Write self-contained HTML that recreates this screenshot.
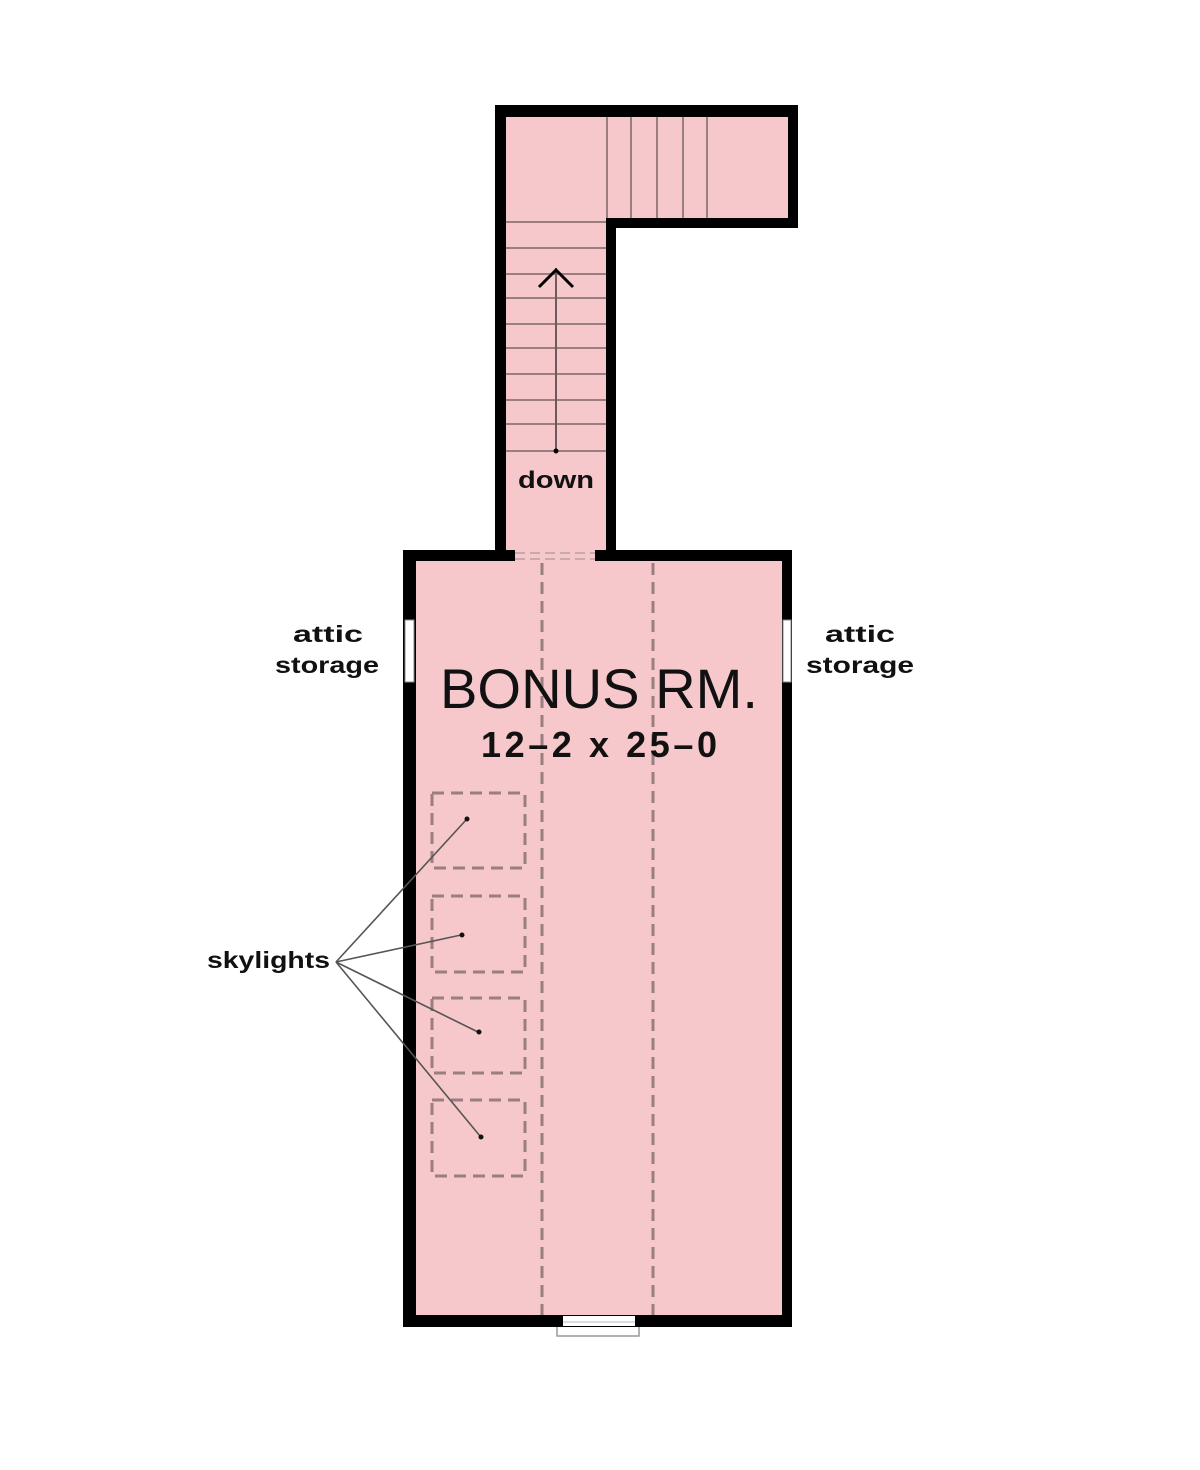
<!DOCTYPE html>
<html><head><meta charset="utf-8"><style>
html,body{margin:0;padding:0;background:#fff;}
svg{display:block;}
</style></head><body>
<svg width="1200" height="1470" viewBox="0 0 1200 1470" xmlns="http://www.w3.org/2000/svg">
<!-- pink fills -->
<rect x="495" y="105" width="303" height="123" fill="#f6c8cc"/>
<rect x="495" y="105" width="121" height="456" fill="#f6c8cc"/>
<rect x="403" y="550" width="389" height="777" fill="#f6c8cc"/>
<!-- stair walls -->
<g fill="#000">
<rect x="495" y="105" width="303" height="12"/>
<rect x="495" y="105" width="11" height="456"/>
<rect x="788" y="105" width="10" height="123"/>
<rect x="606" y="218" width="192" height="10"/>
<rect x="606" y="218" width="10" height="343"/>
<!-- room walls -->
<rect x="403" y="550" width="112" height="11"/>
<rect x="595" y="550" width="197" height="11"/>
<rect x="403" y="550" width="13" height="777"/>
<rect x="782" y="550" width="10" height="777"/>
<rect x="403" y="1315" width="389" height="12"/>
</g>
<!-- side windows -->
<rect x="405" y="620" width="9" height="62" fill="#fff" stroke="#888" stroke-width="1"/>
<rect x="783" y="620" width="8" height="62" fill="#fff" stroke="#888" stroke-width="1"/>
<!-- bottom window -->
<rect x="563" y="1316" width="72" height="10" fill="#fff"/>
<path d="M557 1327 V1336 H639 V1327" fill="#fff" stroke="#999" stroke-width="1.5"/>
<line x1="563" y1="1322" x2="635" y2="1322" stroke="#bbb" stroke-width="1"/>
<!-- top door opening dashes -->
<g stroke="#c9a9ab" stroke-width="2" stroke-dasharray="10,5">
<line x1="515" y1="553" x2="595" y2="553"/>
<line x1="515" y1="559" x2="595" y2="559"/>
</g>
<!-- stair treads -->
<g stroke="#9a7e80" stroke-width="2">
<line x1="607" y1="117" x2="607" y2="218"/>
<line x1="631" y1="117" x2="631" y2="218"/>
<line x1="657" y1="117" x2="657" y2="218"/>
<line x1="683" y1="117" x2="683" y2="218"/>
<line x1="707" y1="117" x2="707" y2="218"/>
<line x1="506" y1="222" x2="606" y2="222"/>
<line x1="506" y1="248" x2="606" y2="248"/>
<line x1="506" y1="274" x2="606" y2="274"/>
<line x1="506" y1="298" x2="606" y2="298"/>
<line x1="506" y1="324" x2="606" y2="324"/>
<line x1="506" y1="348" x2="606" y2="348"/>
<line x1="506" y1="374" x2="606" y2="374"/>
<line x1="506" y1="400" x2="606" y2="400"/>
<line x1="506" y1="424" x2="606" y2="424"/>
<line x1="506" y1="451" x2="606" y2="451"/>
</g>
<!-- arrow -->
<line x1="556" y1="451" x2="556" y2="268" stroke="#6e5a5c" stroke-width="2"/>
<circle cx="556" cy="451" r="2.5" fill="#000"/>
<polyline points="539,287 556,270 573,287" fill="none" stroke="#000" stroke-width="3"/>
<text x="556" y="488" text-anchor="middle" font-family="Liberation Sans, sans-serif" font-weight="bold" font-size="24" fill="#111" textLength="76" lengthAdjust="spacingAndGlyphs">down</text>
<!-- dashed beams -->
<g stroke="#9a7e80" stroke-width="3" stroke-dasharray="12,7">
<line x1="542" y1="563" x2="542" y2="1315"/>
<line x1="653" y1="563" x2="653" y2="1315"/>
</g>
<!-- skylights -->
<g fill="none" stroke="#9a7e80" stroke-width="3" stroke-dasharray="12,7">
<rect x="432" y="793" width="93" height="75"/>
<rect x="432" y="896" width="93" height="76"/>
<rect x="432" y="998" width="93" height="75"/>
<rect x="432" y="1100" width="93" height="76"/>
</g>
<!-- leaders -->
<g stroke="#555" stroke-width="1.6">
<line x1="336" y1="962" x2="466" y2="820"/>
<line x1="336" y1="962" x2="461" y2="935"/>
<line x1="336" y1="962" x2="478" y2="1032"/>
<line x1="336" y1="962" x2="480" y2="1136"/>
</g>
<g fill="#111">
<circle cx="467" cy="819" r="2.5"/>
<circle cx="462" cy="935" r="2.5"/>
<circle cx="479" cy="1032" r="2.5"/>
<circle cx="481" cy="1137" r="2.5"/>
</g>
<!-- text -->
<g font-family="Liberation Sans, sans-serif" font-weight="bold" fill="#111">
<text x="328" y="642" text-anchor="middle" font-size="23" textLength="70" lengthAdjust="spacingAndGlyphs">attic</text>
<text x="327" y="673" text-anchor="middle" font-size="23" textLength="104" lengthAdjust="spacingAndGlyphs">storage</text>
<text x="860" y="642" text-anchor="middle" font-size="23" textLength="70" lengthAdjust="spacingAndGlyphs">attic</text>
<text x="860" y="673" text-anchor="middle" font-size="23" textLength="108" lengthAdjust="spacingAndGlyphs">storage</text>
<text x="207" y="968" font-size="23" textLength="123" lengthAdjust="spacingAndGlyphs">skylights</text>
</g>
<text x="440" y="708" font-family="Liberation Sans, sans-serif" font-size="56" fill="#111" textLength="318" lengthAdjust="spacingAndGlyphs">BONUS  RM.</text>
<text x="481" y="757" font-family="Liberation Sans, sans-serif" font-weight="bold" font-size="36" fill="#111" textLength="236" lengthAdjust="spacing">12–2 x 25–0</text>
</svg>
</body></html>
